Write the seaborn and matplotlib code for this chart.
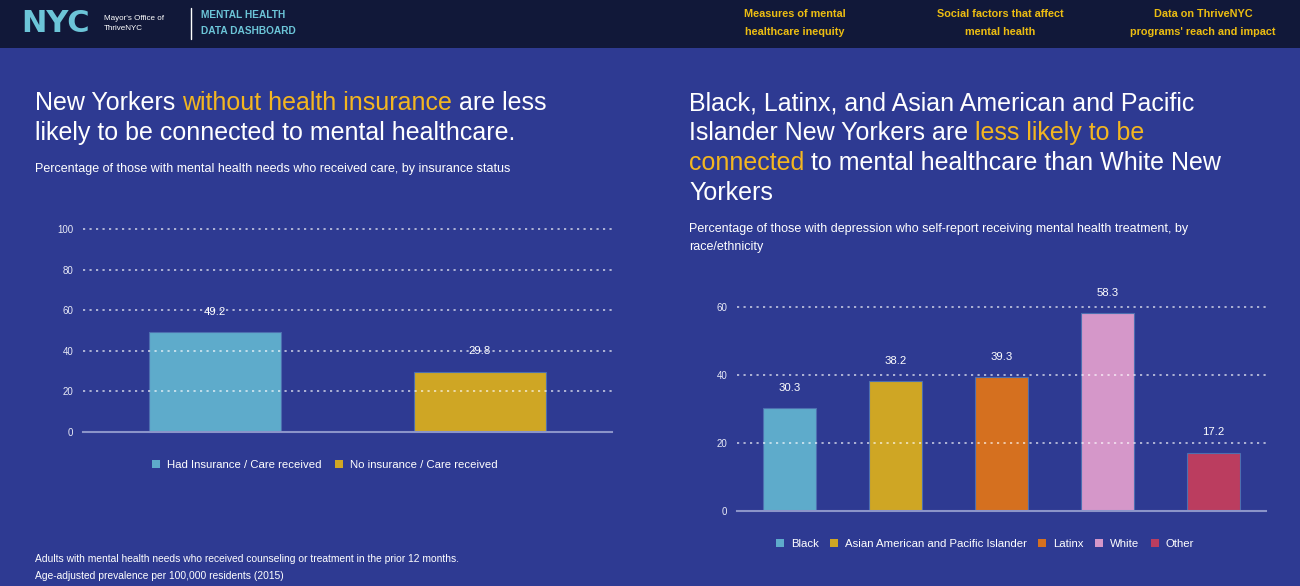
import matplotlib.pyplot as plt
import pandas as pd
import seaborn as sns
from matplotlib.patches import Patch, Rectangle
from matplotlib.lines import Line2D

sns.set_theme(style="white")
plt.rcParams["font.family"] = ["Liberation Sans", "DejaVu Sans"]

W, H = 1300, 586
BG = "#2e3a92"
HEADER_BG = "#111839"
ACCENT = "#f3b620"
NAV_YELLOW = "#ecbd12"
CYAN = "#6cc5d8"
AXIS_C = "#8b94c9"

# data
INS_LABELS = ["Had Insurance / Care received", "No insurance / Care received"]
INS_VALUES = [49.2, 29.8]
INS_COLORS = ["#5eabcb", "#cfa624"]

RACE_LABELS = ["Black", "Asian American and Pacific Islander", "Latinx", "White", "Other"]
RACE_VALUES = [30.3, 38.2, 39.3, 58.3, 17.2]
RACE_COLORS = ["#5eabcb", "#cfa624", "#d5701f", "#d597c9", "#bb3d5f"]

NAV_ITEMS = ["Measures of mental\nhealthcare inequity",
             "Social factors that affect\nmental health",
             "Data on ThriveNYC\nprograms' reach and impact"]


def fx(x):
    return x / W


def fy(y):
    return 1 - y / H


fig = plt.figure(figsize=(W / 100, H / 100), dpi=100)
fig.patch.set_facecolor(BG)
renderer = fig.canvas.get_renderer()

# header bar
fig.patches.append(Rectangle((0, fy(48)), 1, 48 / H, transform=fig.transFigure,
                             facecolor=HEADER_BG, edgecolor="none", zorder=0))
fig.text(fx(21), fy(24), "NYC", color=CYAN, fontsize=22, fontweight="heavy",
         family="DejaVu Sans", va="center", ha="left")
fig.text(fx(104), fy(18), "Mayor's Office of", color="white", fontsize=5.8, va="center")
fig.text(fx(104), fy(29), "ThriveNYC", color="white", fontsize=5.8, va="center")
fig.lines.append(Line2D([fx(191), fx(191)], [fy(8), fy(39)], transform=fig.transFigure,
                        color="white", lw=1))
fig.text(fx(201), fy(15), "MENTAL HEALTH", color=CYAN, fontsize=7.3, fontweight="bold", va="center")
fig.text(fx(201), fy(31), "DATA DASHBOARD", color=CYAN, fontsize=7.3, fontweight="bold", va="center")
for cx, item in zip([795, 1000, 1203], NAV_ITEMS):
    fig.text(fx(cx), fy(23), item, color=NAV_YELLOW, fontsize=7.8, fontweight="bold",
             ha="center", va="center", linespacing=1.95)


def piece_width(txt, size):
    t = fig.text(0, 0, txt + "|", fontsize=size)
    bar = fig.text(0, 0, "|", fontsize=size)
    w = t.get_window_extent(renderer).width - bar.get_window_extent(renderer).width
    t.remove()
    bar.remove()
    return w


def rich_text(x, y, lines, size, step):
    for i, line in enumerate(lines):
        cur = x
        for txt, col in line:
            fig.text(fx(cur), fy(y + i * step), txt, color=col, fontsize=size, va="center")
            cur += piece_width(txt, size)


rich_text(35, 103, [
    [("New Yorkers ", "white"), ("without health insurance", ACCENT), (" are less", "white")],
    [("likely to be connected to mental healthcare.", "white")],
], 18, 30)
fig.text(fx(35), fy(169), "Percentage of those with mental health needs who received care, by insurance status",
         color="white", fontsize=9, va="center")

rich_text(689, 103, [
    [("Black, Latinx, and Asian American and Pacific", "white")],
    [("Islander New Yorkers are ", "white"), ("less likely to be", ACCENT)],
    [("connected", ACCENT), (" to mental healthcare than White New", "white")],
    [("Yorkers", "white")],
], 18, 30)
fig.text(fx(689), fy(229), "Percentage of those with depression who self-report receiving mental health treatment, by",
         color="white", fontsize=9, va="center")
fig.text(fx(689), fy(247), "race/ethnicity", color="white", fontsize=9, va="center")

fig.text(fx(35), fy(559), "Adults with mental health needs who received counseling or treatment in the prior 12 months.",
         color="white", fontsize=7.4, va="center")
fig.text(fx(35), fy(576), "Age-adjusted prevalence per 100,000 residents (2015)",
         color="white", fontsize=7.4, va="center")


def style_axes(ax, ymax, step):
    ax.set_facecolor("none")
    ax.set_ylim(0, ymax)
    ax.set_yticks(range(0, ymax + 1, step))
    ax.set_xlabel("")
    ax.set_ylabel("")
    ax.set_xticklabels([])
    for s in ["left", "right", "top"]:
        ax.spines[s].set_visible(False)
    ax.spines["bottom"].set_color(AXIS_C)
    ax.spines["bottom"].set_linewidth(1.5)
    ax.tick_params(axis="y", length=0, pad=7, labelsize=7, labelcolor="#e8eaf6")
    ax.tick_params(axis="x", length=4, width=1, color=AXIS_C, direction="out")
    # dotted grid drawn over the bars, semi-transparent
    for v in range(step, ymax + 1, step):
        ax.axhline(v, color="white", lw=1.2, ls=(0, (1.3, 2.6)), alpha=0.72, zorder=3,
                   clip_on=False)
    for cont in ax.containers:
        ax.bar_label(cont, padding=11, color="white", fontsize=8.2, fmt="%.1f", zorder=4)


# left chart
ax1 = fig.add_axes([fx(83), fy(432), 529 / W, (432 - 229) / H])
df1 = pd.DataFrame({"status": INS_LABELS, "pct": INS_VALUES})
sns.barplot(data=df1, x="status", y="pct", hue="status", palette=INS_COLORS, width=0.5,
            saturation=1, legend=False, ax=ax1, edgecolor="#4d6fb0", linewidth=0.8, zorder=2)
style_axes(ax1, 100, 20)
ax1.legend(handles=[Patch(facecolor=c, edgecolor="none", label=l) for l, c in zip(INS_LABELS, INS_COLORS)],
           loc="center", bbox_to_anchor=(fx(325), fy(465)), bbox_transform=fig.transFigure,
           ncol=2, frameon=False, fontsize=8.2, labelcolor="white", handlelength=0.7,
           handleheight=0.7, handletextpad=0.6, columnspacing=1.2)

# right chart
ax2 = fig.add_axes([fx(737), fy(511), 529 / W, (511 - 307) / H])
df2 = pd.DataFrame({"group": RACE_LABELS, "pct": RACE_VALUES})
sns.barplot(data=df2, x="group", y="pct", hue="group", palette=RACE_COLORS, width=0.5,
            saturation=1, legend=False, ax=ax2, edgecolor="#4d6fb0", linewidth=0.8, zorder=2)
style_axes(ax2, 60, 20)
for t in ax2.texts:
    t.set_clip_on(False)
ax2.legend(handles=[Patch(facecolor=c, edgecolor="none", label=l) for l, c in zip(RACE_LABELS, RACE_COLORS)],
           loc="center", bbox_to_anchor=(fx(985), fy(544)), bbox_transform=fig.transFigure,
           ncol=5, frameon=False, fontsize=8.2, labelcolor="white", handlelength=0.7,
           handleheight=0.7, handletextpad=0.6, columnspacing=1.0)

fig.savefig("out.png", dpi=100, facecolor=BG)
